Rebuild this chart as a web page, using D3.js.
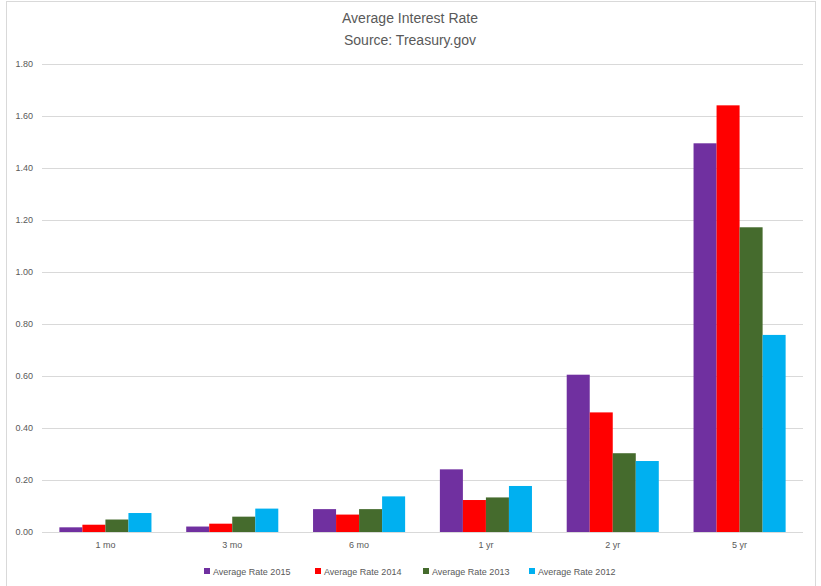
<!DOCTYPE html>
<html><head><meta charset="utf-8">
<script src="https://cdn.jsdelivr.net/npm/d3@7"></script>
<style>body{margin:0;background:#fff;} text{font-family:"Liberation Sans",Arial,sans-serif;}</style>
</head><body>
<svg id="c" width="821" height="586"></svg>
<script>
const categories = ["1 mo","3 mo","6 mo","1 yr","2 yr","5 yr"];
const seriesNames = ["Average Rate 2015","Average Rate 2014","Average Rate 2013","Average Rate 2012"];
const rate2015 = [0.018,0.021,0.088,0.241,0.605,1.495];
const rate2014 = [0.028,0.032,0.067,0.123,0.460,1.641];
const rate2013 = [0.048,0.059,0.088,0.133,0.303,1.172];
const rate2012 = [0.073,0.090,0.137,0.177,0.273,0.758];
const colors = ["#7030a0","#ff0000","#456b2d","#00b0f0"];
const yTicks = [0,0.2,0.4,0.6,0.8,1.0,1.2,1.4,1.6,1.8];
const series = [rate2015,rate2014,rate2013,rate2012];

const svg = d3.select("#c");
svg.append("rect").attr("x",6.5).attr("y",1.5).attr("width",809).attr("height",600)
  .attr("fill","#fff").attr("stroke","#d9d9d9");

const pL=42, pR=803, pT=64, pB=532;
const x = d3.scaleBand().domain(categories).range([pL,pR]).paddingInner(0.274).paddingOuter(0.137);
const x1 = d3.scaleBand().domain(d3.range(series.length)).range([0,x.bandwidth()]);
const y = d3.scaleLinear().domain([0,1.8]).range([pB,pT]);

// gridlines
svg.append("g").selectAll("line").data(yTicks).join("line")
  .attr("x1",pL).attr("x2",pR).attr("y1",d=>y(d)+0.5).attr("y2",d=>y(d)+0.5)
  .attr("stroke","#d9d9d9").attr("stroke-width",1);

// y axis labels
const yAxis = d3.axisLeft(y).tickValues(yTicks).tickFormat(d3.format(".2f")).tickSize(0).tickPadding(9);
const ya = svg.append("g").attr("transform",`translate(${pL},0)`).call(yAxis);
ya.select(".domain").remove();
ya.selectAll("text").attr("fill","#595959").style("font-size","9px");

// bars
const g = svg.append("g");
categories.forEach((c,ci)=>{
  series.forEach((s,si)=>{
    g.append("rect").attr("x",x(c)+x1(si)).attr("width",x1.bandwidth())
      .attr("y",y(s[ci])).attr("height",y(0)-y(s[ci])).attr("fill",colors[si]);
  });
});

// x axis
svg.append("line").attr("x1",pL).attr("x2",pR).attr("y1",pB+0.5).attr("y2",pB+0.5).attr("stroke","#d9d9d9");
const xAxis = d3.axisBottom(x).tickSize(0).tickPadding(10);
const xa = svg.append("g").attr("transform",`translate(0,${pB})`).call(xAxis);
xa.select(".domain").remove();
xa.selectAll("text").attr("fill","#595959").style("font-size","9px");

// title
svg.append("text").attr("x",410).attr("y",23).attr("text-anchor","middle").attr("fill","#595959")
  .style("font-size","14px").text("Average Interest Rate");
svg.append("text").attr("x",410).attr("y",45).attr("text-anchor","middle").attr("fill","#595959")
  .style("font-size","14px").text("Source: Treasury.gov");

// legend
const legX = [204,315,423,529];
const lg = svg.append("g");
seriesNames.forEach((n,i)=>{
  lg.append("rect").attr("x",legX[i]).attr("y",568).attr("width",6).attr("height",6).attr("fill",colors[i]);
  lg.append("text").attr("x",legX[i]+9).attr("y",574.5).attr("fill","#595959").style("font-size","9px").text(n);
});
</script>
</body></html>
